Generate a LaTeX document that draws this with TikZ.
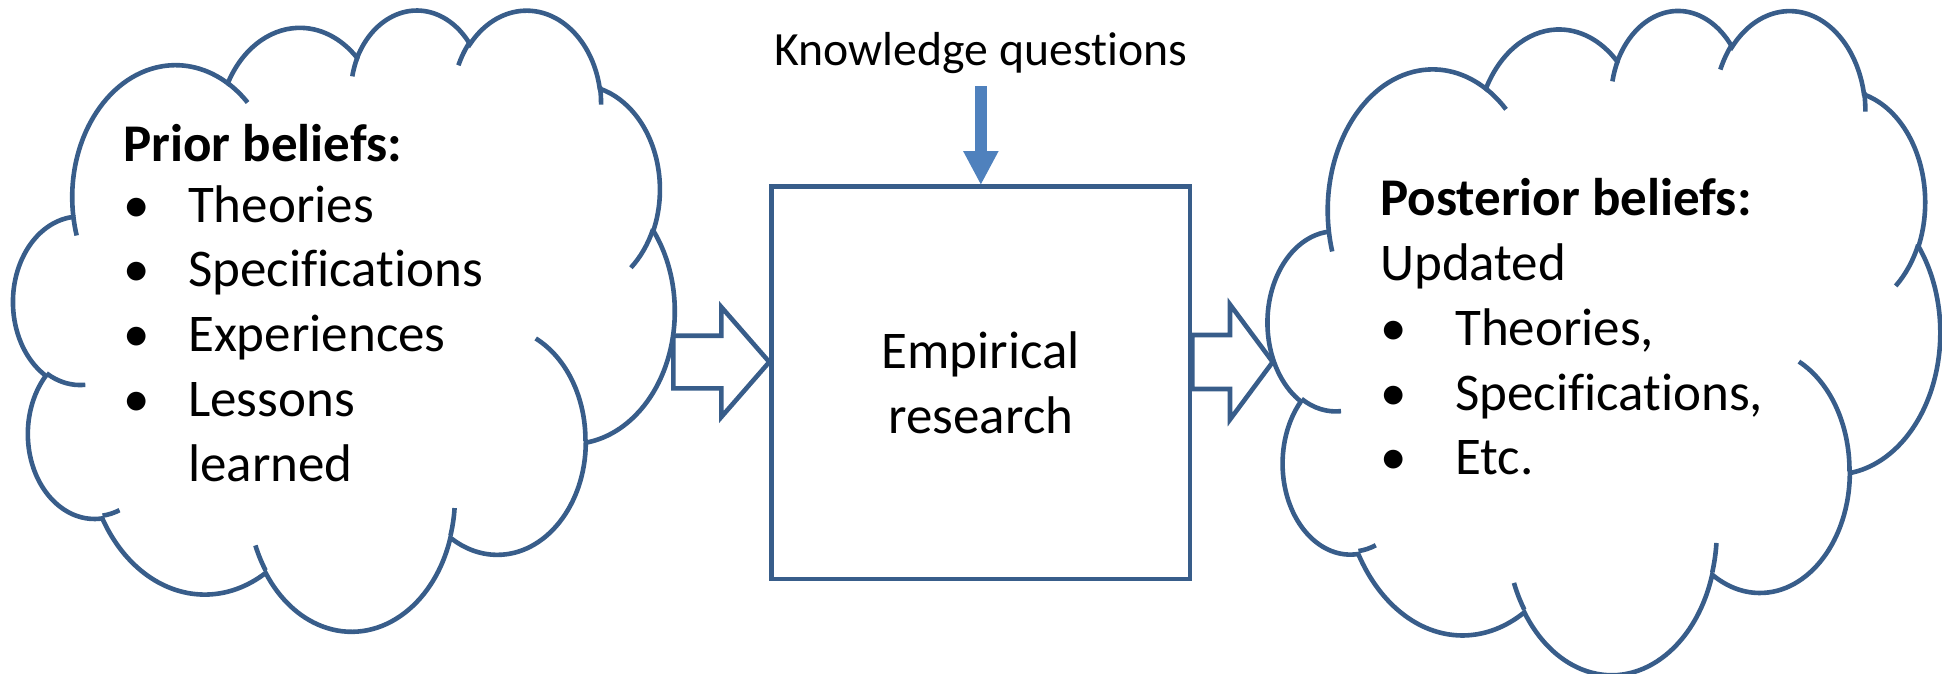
\documentclass[tikz,border=0pt]{standalone}
\usepackage{fontspec}
\setmainfont{Carlito}[Ligatures={NoCommon}]
\usepackage{tikz}
\usetikzlibrary{calc}
\usetikzlibrary{arrows.meta}
\definecolor{outline}{RGB}{56,93,138}
\definecolor{kqblue}{RGB}{79,129,189}
\newcommand{\bodyfont}{\fontsize{53}{64.7}\selectfont}
\newcommand{\labelfont}{\fontsize{47.7}{58.2}\selectfont}
\tikzstyle{cloudline} = [
    draw=outline,
    line width=4.6pt
]
\tikzstyle{research} = [
    rectangle,
    draw=outline,
    line width=4.8pt,
    minimum width=418.3pt,
    minimum height=392.3pt,
    inner sep=0pt,
    align=center,
    font=\bodyfont
]
\tikzstyle{beliefs} = [anchor=base west, inner sep=0pt, font=\bodyfont]
\tikzstyle{kqlabel} = [anchor=base, inner sep=0pt, font=\labelfont]
\tikzstyle{blockarrow} = [draw=outline, line width=4.6pt]
\tikzstyle{kqarrow} = [
    draw=kqblue,
    line width=11.7pt,
    shorten <=13pt,
    -{Triangle[length=33.3pt, width=35.6pt, line width=0pt]}
]
% arc given as in a slide: radii, start angle and sweep seen from the centre
\tikzset{ooarc/.style n args={4}{x radius=#1, y radius=#2,
    start angle={atan2((#1)*sin(#3),(#2)*cos(#3))},
    delta angle={mod(atan2((#1)*sin((#3)+(#4)),(#2)*cos((#3)+(#4)))-atan2((#1)*sin(#3),(#2)*cos(#3))+720,360)}}}
\newcommand{\ppcloud}[4]{%
\begin{scope}[shift={(#1,#2)}, xscale=#3/43.2, yscale=#4/43.2]
\draw[cloudline] (3.900,14.370)
    arc[ooarc={6.753}{9.190}{-190.48748}{123.78053}]
    arc[ooarc={5.333}{7.267}{-144.10238}{89.94523}]
    arc[ooarc={4.365}{5.945}{-145.80792}{99.72302}]
    arc[ooarc={4.857}{6.595}{-130.98607}{117.24173}]
    arc[ooarc={5.333}{7.273}{-78.70888}{109.02692}]
    arc[ooarc={6.775}{9.220}{-46.26725}{130.26900}]
    arc[ooarc={5.785}{7.867}{0.62502}{114.03333}]
    arc[ooarc={6.752}{9.215}{22.45160}{115.17255}]
    arc[ooarc={7.720}{10.543}{66.24263}{75.71102}]
    arc[ooarc={4.360}{5.918}{-274.94208}{146.73557}]
    arc[ooarc={4.345}{5.945}{-246.82850}{152.51885}]
    -- cycle;
\draw[cloudline]
    (4.693,26.177) arc[ooarc={4.345}{5.945}{86.74200}{26.42950}]
    (6.928,34.899) arc[ooarc={4.360}{5.918}{73.61047}{11.44747}]
    (16.478,39.090) arc[ooarc={6.752}{9.215}{137.62415}{14.08110}]
    (28.827,34.751) arc[ooarc={6.752}{9.215}{6.45327}{15.99835}]
    (34.129,22.954) arc[ooarc={5.785}{7.867}{-70.29235}{70.91737}]
    (41.798,15.354) arc[ooarc={5.333}{7.273}{30.31803}{27.75150}]
    (38.324,5.426) arc[ooarc={4.857}{6.595}{-13.74433}{14.85890}]
    (29.078,3.952) arc[ooarc={4.857}{6.595}{-149.18145}{18.19537}]
    (22.141,4.720) arc[ooarc={4.365}{5.945}{-163.49427}{17.68635}]
    (14.000,5.192) arc[ooarc={6.753}{9.190}{-66.70695}{12.31935}]
    (4.127,15.789) arc[ooarc={6.753}{9.190}{157.65435}{11.85817}];
\end{scope}}
% tail, tip, half shaft, half head, head length
\newcommand{\blockarrow}[5]{%
\draw[blockarrow] ($(#1)+(0,-#3)$) -- ($(#2)+(-#5,-#3)$) -- ($(#2)+(-#5,-#4)$) -- (#2)
    -- ($(#2)+(-#5,#4)$) -- ($(#2)+(-#5,#3)$) -- ($(#1)+(0,#3)$) -- cycle;}

\begin{document}
\begin{tikzpicture}[x=1pt, y=1pt, yscale=-1]
\useasboundingbox (0,0) rectangle (1942,673);

\ppcloud{13.5}{8.5}{661}{621}
\ppcloud{1268}{8.8}{672}{664}

\node[research] (emp) at (980.85,382.85) {Empirical\\research};

\node[kqlabel] (know) at (980.85,65) {Knowledge questions};

\node[beliefs] (prior) at (123,161)
{
\begin{tabular}[t]{@{}p{65pt}@{}l@{}}
\multicolumn{2}{@{}l@{}}{\textbf{Prior beliefs:}}\\[-3.5pt]
\textbullet & Theories \\
\textbullet & Specifications \\
\textbullet & Experiences \\
\textbullet & Lessons \\
            & learned
\end{tabular}
};

\node[beliefs] (post) at (1380,215.9)
{
\begin{tabular}[t]{@{}p{75pt}@{}l@{}}
\multicolumn{2}{@{}l@{}}{\textbf{Posterior beliefs:}}\\
\multicolumn{2}{@{}l@{}}{Updated}\\
\textbullet & Theories, \\
\textbullet & Specifications, \\
\textbullet & Etc.
\end{tabular}
};

\coordinate (ltail) at (673.3,362);
\coordinate (ltip)  at (emp.west |- ltail);
\coordinate (rtip)  at (1272.7,362);
\coordinate (rtail) at (emp.east |- rtip);

\blockarrow{ltail}{ltip}{26.3}{55}{48}
\blockarrow{rtail}{rtip}{27}{57.5}{42.7}

\draw[kqarrow] (know.south) -- (emp.north);

\end{tikzpicture}
\end{document}
